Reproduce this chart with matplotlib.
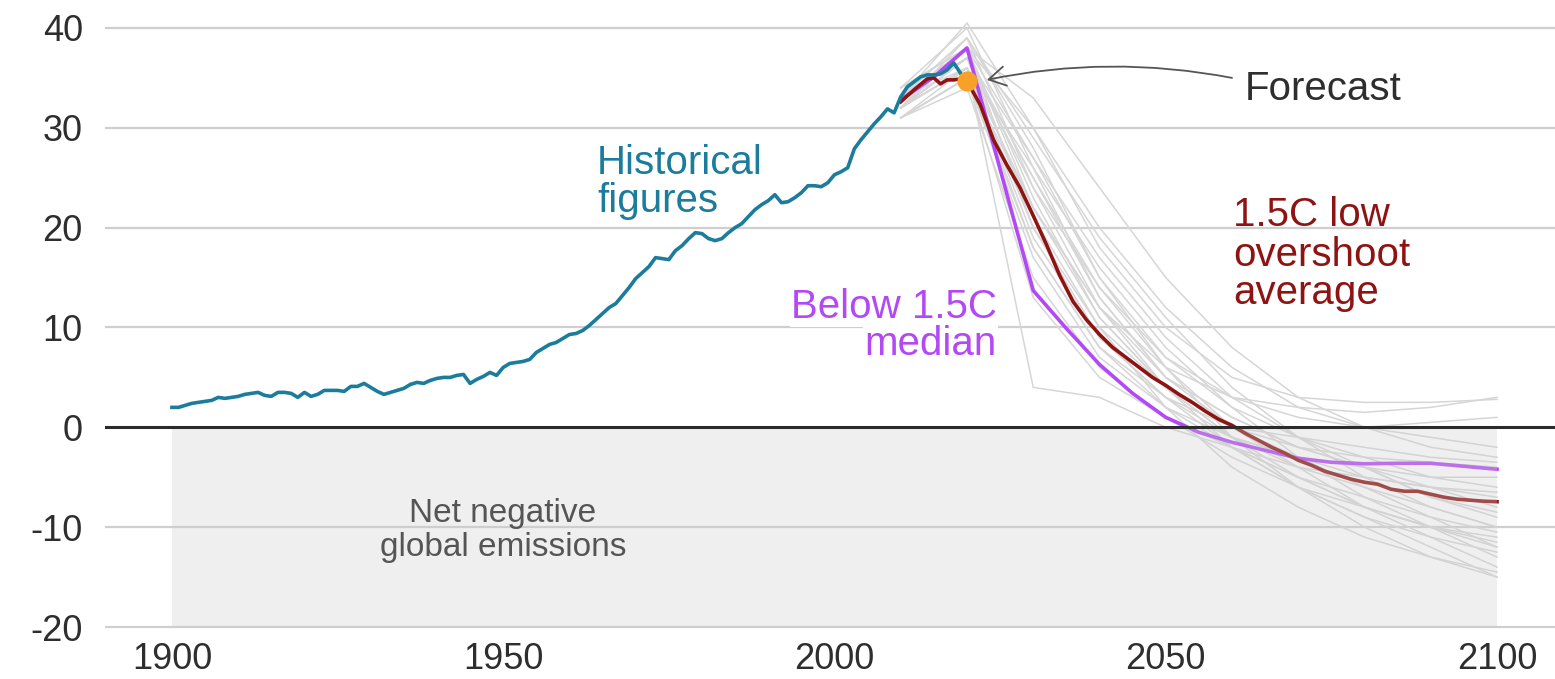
import matplotlib
matplotlib.use("Agg")
import matplotlib.pyplot as plt
from matplotlib.patches import FancyArrowPatch

plt.rcParams['font.family'] = ['Liberation Sans', 'DejaVu Sans']

# ---------------- data ----------------
hist_years = list(range(1900, 2020))
hist_values = [2.0, 2.0, 2.2, 2.4, 2.5, 2.6, 2.7, 3.0, 2.9, 3.0,
               3.1, 3.3, 3.4, 3.5, 3.2, 3.1, 3.5, 3.5, 3.4, 3.0,
               3.5, 3.1, 3.3, 3.7, 3.7, 3.7, 3.6, 4.1, 4.1, 4.4,
               4.0, 3.6, 3.3, 3.5, 3.7, 3.9, 4.3, 4.5, 4.4, 4.7,
               4.9, 5.0, 5.0, 5.2, 5.3, 4.4, 4.8, 5.1, 5.5, 5.2,
               6.0, 6.4, 6.5, 6.6, 6.8, 7.5, 7.9, 8.3, 8.5, 8.9,
               9.3, 9.4, 9.7, 10.2, 10.8, 11.4, 12.0, 12.4, 13.2, 14.0,
               14.9, 15.5, 16.1, 17.0, 16.9, 16.8, 17.7, 18.2, 18.9, 19.5,
               19.4, 18.9, 18.7, 18.9, 19.5, 20.0, 20.4, 21.1, 21.8, 22.3,
               22.7, 23.3, 22.5, 22.6, 23.0, 23.5, 24.2, 24.2, 24.1, 24.5,
               25.3, 25.6, 26.0, 27.9, 28.8, 29.6, 30.4, 31.1, 31.9, 31.5,
               33.1, 34.1, 34.6, 35.1, 35.3, 35.3, 35.4, 35.8, 36.5, 35.5]

median_years = [2010, 2015, 2020, 2030, 2035, 2040, 2045, 2050, 2055,
                2060, 2065, 2070, 2075, 2080, 2085, 2090, 2095, 2100]
median_values = [32.8, 35.1, 38.0, 13.7, 9.9, 6.3, 3.4, 1.0, -0.5,
                 -1.5, -2.3, -3.1, -3.5, -3.65, -3.6, -3.6, -3.9, -4.2]

avg_years = [2010, 2012, 2014, 2015, 2016, 2017, 2018, 2019, 2020, 2022,
             2024, 2026, 2028, 2030, 2032, 2034, 2036, 2038, 2040, 2042,
             2044, 2046, 2048, 2050, 2052, 2054, 2056, 2058, 2060, 2062,
             2064, 2066, 2068, 2070, 2072, 2074, 2076, 2078, 2080, 2082,
             2084, 2086, 2088, 2090, 2092, 2094, 2096, 2098, 2100]
avg_values = [32.6, 33.8, 34.9, 35.0, 34.4, 34.8, 34.8, 34.9, 34.7, 32.3,
              28.8, 26.3, 24.0, 21.2, 18.3, 15.2, 12.6, 10.8, 9.3, 8.0,
              7.0, 6.0, 5.0, 4.2, 3.3, 2.5, 1.6, 0.8, 0.2, -0.6,
              -1.3, -2.0, -2.6, -3.3, -3.8, -4.4, -4.8, -5.2, -5.5, -5.7,
              -6.2, -6.4, -6.4, -6.7, -7.0, -7.2, -7.3, -7.4, -7.45]

forecast_year = 2020

scen_years = [2010, 2020, 2030, 2040, 2050, 2060, 2070, 2080, 2090, 2100]
scen01 = [32, 38, 22, 12, 6, 3, 2, 1.5, 2, 3]
scen02 = [33, 40.5, 30, 18, 10, 5, 3, 2.5, 2.5, 2.8]
scen03 = [31, 36, 18, 8, 2, -2, -5, -8, -10, -12]
scen04 = [32, 37, 25, 14, 6, 0, -4, -8, -11, -14]
scen05 = [33, 39, 28, 15, 7, 2, -1, -3, -5, -6]
scen06 = [32, 36, 4, 3, 0, -2, -4, -5, -6, -7]
scen07 = [34, 38, 20, 9, 3, -2, -6, -9, -12, -15]
scen08 = [31, 35, 22, 12, 5, 1, -2, -4, -6, -8]
scen09 = [33, 37, 27, 17, 9, 3, -1, -4, -7, -9]
scen10 = [32, 39, 24, 12, 4, -1, -4, -6, -8, -10]
scen11 = [31, 34, 15, 6, 1, -3, -6, -8, -10, -11]
scen12 = [33, 38, 30, 20, 12, 6, 2, 0, 0.5, 1]
scen13 = [32, 36, 19, 9, 3, -1, -3, -5, -6, -6.5]
scen14 = [34, 40, 26, 13, 5, 0, -3, -6, -9, -12]
scen15 = [32, 37, 21, 10, 2, -4, -8, -11, -13, -14.5]
scen16 = [31, 35, 17, 7, 2, -1, -3, -4, -5, -5]
scen17 = [33, 38, 23, 11, 4, 0, -2, -3, -3.5, -4]
scen18 = [32, 36, 26, 16, 8, 2, -3, -7, -10, -13]
scen19 = [33, 39, 29, 19, 11, 4, -1, -5, -8, -10]
scen20 = [31, 35, 13, 5, 1, -2, -5, -7, -9, -10.5]
scen21 = [32, 37, 24, 14, 7, 3, 1, 0, -1, -2]
scen22 = [34, 38, 33, 24, 15, 8, 3, 0, -2, -3]
scen23 = [32, 36, 20, 10, 4, -1, -5, -8, -10, -11.5]
scen24 = [33, 37, 25, 13, 5, 1, -2, -4, -7, -8.5]
scen25 = [31, 35, 18, 8, 3, 0, -1, -2, -3, -3.5]
scen26 = [32, 38, 27, 15, 6, -1, -6, -10, -13, -15]
scen27 = [33, 36, 22, 11, 4, -2, -6, -9, -11, -12.5]
scenarios = [scen01, scen02, scen03, scen04, scen05, scen06, scen07, scen08, scen09,
             scen10, scen11, scen12, scen13, scen14, scen15, scen16, scen17, scen18,
             scen19, scen20, scen21, scen22, scen23, scen24, scen25, scen26, scen27]

y_ticks = [40, 30, 20, 10, 0, -10, -20]
y_ticklabels = ["40", "30", "20", "10", "0", "-10", "-20"]
x_ticks = [1900, 1950, 2000, 2050, 2100]
x_ticklabels = ["1900", "1950", "2000", "2050", "2100"]

# ---------------- colours ----------------
C_HIST = "#1b7c9c"
C_MED = "#b348f5"
C_AVG = "#8e1414"
C_GRAY = "#d6d6d6"
C_DOT = "#f7a128"

# ---------------- figure ----------------
W_PX, H_PX = 1555, 679
fig = plt.figure(figsize=(W_PX / 100, H_PX / 100), dpi=100)
left = 105 / W_PX
bottom = (H_PX - 632) / H_PX
top = (H_PX - 10) / H_PX
ax = fig.add_axes([left, bottom, 1 - left, top - bottom])
ax.set_xlim(1889.9, 2108.75)
ax.set_ylim(-20.5, 41.8)

for s in ax.spines.values():
    s.set_visible(False)

# gridlines
for v in y_ticks:
    if v == 0:
        continue
    ax.axhline(v, color="#cfcfcf", lw=1.6, zorder=0)

# scenario lines
for sc in scenarios:
    ax.plot(scen_years, sc, color=C_GRAY, lw=1.1, zorder=2, solid_joinstyle="round")

ax.plot(median_years, median_values, color=C_MED, lw=2.6, zorder=3)
ax.plot(avg_years, avg_values, color=C_AVG, lw=2.6, zorder=4)
ax.plot(hist_years, hist_values, color=C_HIST, lw=2.6, zorder=5)

fy = avg_values[avg_years.index(forecast_year)]
ax.plot([forecast_year], [fy], "o", ms=14.5, color=C_DOT, mec="none", zorder=6)

# net-negative shaded overlay
ax.fill_between([1900, 2100], [-20, -20], [0, 0], color="#cdcdcd", alpha=0.3,
                lw=0, zorder=7)
ax.axhline(0, color="#2b2b2b", lw=2.2, zorder=8)

# ticks
ax.set_yticks(y_ticks)
ax.set_yticklabels(y_ticklabels)
ax.set_xticks(x_ticks)
ax.set_xticklabels(x_ticklabels)
ax.tick_params(axis="both", length=0, labelsize=26, labelcolor="#2e2e2e")
ax.tick_params(axis="y", pad=16)
ax.tick_params(axis="x", pad=7)

# annotations
fs = 29
ax.text(1964.15, 25.4, "Historical", color=C_HIST, fontsize=fs, ha="left", va="baseline", zorder=9)
ax.text(1964.15, 21.6, "figures", color=C_HIST, fontsize=fs, ha="left", va="baseline", zorder=9)

wb = dict(facecolor="white", edgecolor="none", pad=1)
ax.text(2024.5, 10.93, "Below 1.5C", color=C_MED, fontsize=fs, ha="right", va="baseline",
        zorder=1, bbox=wb)
ax.text(2024.5, 7.22, "median", color=C_MED, fontsize=fs, ha="right", va="baseline",
        zorder=1, bbox=wb)

ax.text(2060.15, 20.15, "1.5C low", color=C_AVG, fontsize=fs, ha="left", va="baseline", zorder=9)
ax.text(2060.15, 16.14, "overshoot", color=C_AVG, fontsize=fs, ha="left", va="baseline", zorder=9)
ax.text(2060.15, 12.4, "average", color=C_AVG, fontsize=fs, ha="left", va="baseline", zorder=9)

ax.text(2061.96, 32.78, "Forecast", color="#2e2e2e", fontsize=fs, ha="left", va="baseline", zorder=9)

ax.text(1949.96, -9.52, "Net negative", color="#555555", fontsize=24, ha="center", va="baseline", zorder=9)
ax.text(1949.96, -12.93, "global emissions", color="#555555", fontsize=24, ha="center", va="baseline", zorder=9)

arrow = FancyArrowPatch((2060.0, 35.0), (2023.0, 34.8),
                        connectionstyle="arc3,rad=0.1",
                        arrowstyle="->,head_length=12,head_width=7",
                        color="#555555", lw=1.3, zorder=9, shrinkA=0, shrinkB=0)
ax.add_patch(arrow)

fig.savefig("out.png", dpi=100)
